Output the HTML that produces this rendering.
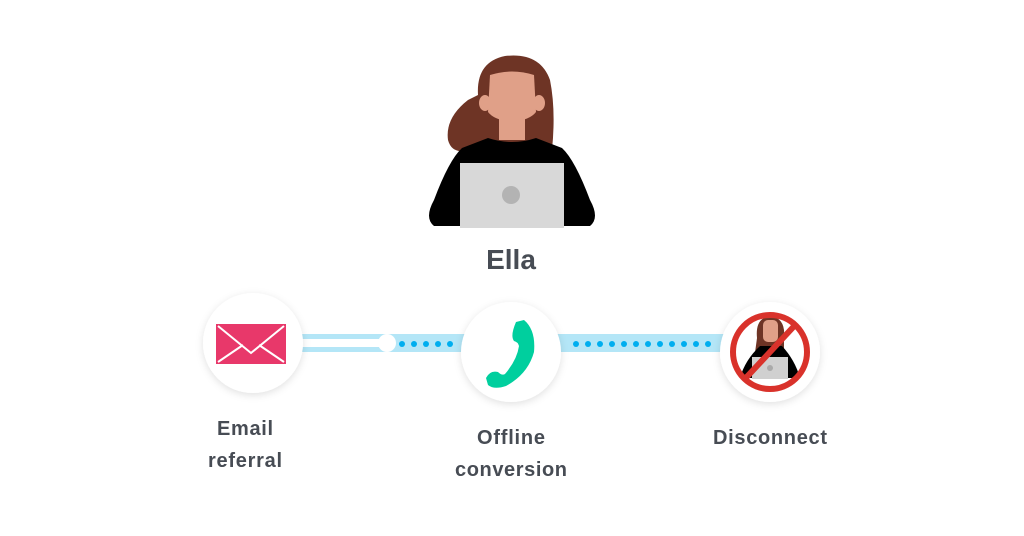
<!DOCTYPE html>
<html><head><style>
html,body{margin:0;padding:0;background:#fff;}
svg{display:block}
text{font-family:"Liberation Sans",sans-serif;font-weight:bold;fill:#474c54;text-anchor:middle}
</style></head><body>
<svg width="1024" height="536" viewBox="0 0 1024 536">
<defs>
<filter id="sh" x="-30%" y="-30%" width="160%" height="160%"><feDropShadow dx="0" dy="2" stdDeviation="4" flood-color="#000" flood-opacity="0.12"/></filter>
<clipPath id="cc"><circle cx="770" cy="350" r="38"/></clipPath>
</defs>
<!-- person -->
<path d="M478 95 Q476 62 505 56 Q540 52 550 80 Q556 110 552 150 L470 150 Q452 155 448 140 Q445 118 468 100 Z" fill="#6e3425"/>
<ellipse cx="485" cy="103" rx="6" ry="8" fill="#e0a088"/>
<ellipse cx="539" cy="103" rx="6" ry="8" fill="#e0a088"/>
<path d="M490 75 Q512 68 534 75 L536 112 Q530 120 512 122 Q494 120 488 112 Z" fill="#e0a088"/>
<rect x="499" y="115" width="26" height="25" fill="#e0a088"/>
<path d="M488 138 Q512 146 536 138 L562 148 Q575 160 590 200 Q600 218 590 226 L434 226 Q424 218 434 200 Q449 160 462 148 Z" fill="#000"/>
<rect x="460" y="163" width="104" height="65" fill="#d8d8d8"/>
<circle cx="511" cy="195" r="9" fill="#b3b3b3"/>
<text x="511" y="269" font-size="28">Ella</text>
<!-- band -->
<rect x="290" y="334" width="440" height="18" fill="#b4e6f7"/>
<rect x="300" y="339" width="88" height="8" fill="#fff"/>
<circle cx="387" cy="343" r="9" fill="#fff"/>
<g fill="#00aeef">
<circle cx="402" cy="344" r="3"/><circle cx="414" cy="344" r="3"/><circle cx="426" cy="344" r="3"/><circle cx="438" cy="344" r="3"/><circle cx="450" cy="344" r="3"/>
<circle cx="576" cy="344" r="3"/><circle cx="588" cy="344" r="3"/><circle cx="600" cy="344" r="3"/><circle cx="612" cy="344" r="3"/><circle cx="624" cy="344" r="3"/><circle cx="636" cy="344" r="3"/><circle cx="648" cy="344" r="3"/><circle cx="660" cy="344" r="3"/><circle cx="672" cy="344" r="3"/><circle cx="684" cy="344" r="3"/><circle cx="696" cy="344" r="3"/><circle cx="708" cy="344" r="3"/>
</g>
<!-- circles -->
<circle cx="253" cy="343" r="50" fill="#fff" filter="url(#sh)"/>
<circle cx="511" cy="352" r="50" fill="#fff" filter="url(#sh)"/>
<circle cx="770" cy="352" r="50" fill="#fff" filter="url(#sh)"/>
<!-- envelope -->
<rect x="216" y="324" width="70" height="40" fill="#e8386a"/>
<path d="M218 326 L251 353 L284 326 M218 362 L243 345 M284 362 L259 345" stroke="#fff" stroke-width="2" fill="none"/>
<!-- phone -->
<path d="M524 320 Q536 330 534 352 Q528 374 506 386 Q494 390 488 385 L486 378 Q490 370 498 372 Q502 376 505 374 Q517 360 519 346 Q518 342 514 341 Q510 336 516 322 Z" fill="#00cf9e"/>
<!-- disconnect -->
<g clip-path="url(#cc)">
<path d="M757 338 Q755 318 770 316 Q786 318 784 338 L784 360 L754 360 Z" fill="#6e3425"/>
<rect x="763" y="320" width="15" height="22" rx="5" fill="#e0a088"/>
<path d="M760 346 L782 346 Q795 360 800 378 L740 378 Q745 360 760 346 Z" fill="#000"/>
<rect x="752" y="357" width="36" height="22" fill="#d0d0d0"/>
<circle cx="770" cy="368" r="3" fill="#aaa"/>
</g>
<circle cx="770" cy="352" r="37" fill="none" stroke="#d9322b" stroke-width="6"/>
<line x1="797" y1="323" x2="743" y2="381" stroke="#d9322b" stroke-width="6"/>
<!-- labels -->
<text x="245" y="435" font-size="20" textLength="56">Email</text>
<text x="245" y="467" font-size="20" textLength="74">referral</text>
<text x="511" y="444" font-size="20" textLength="68">Offline</text>
<text x="511" y="476" font-size="20" textLength="112">conversion</text>
<text x="770" y="444" font-size="20" textLength="114">Disconnect</text>
</svg>
</body></html>
